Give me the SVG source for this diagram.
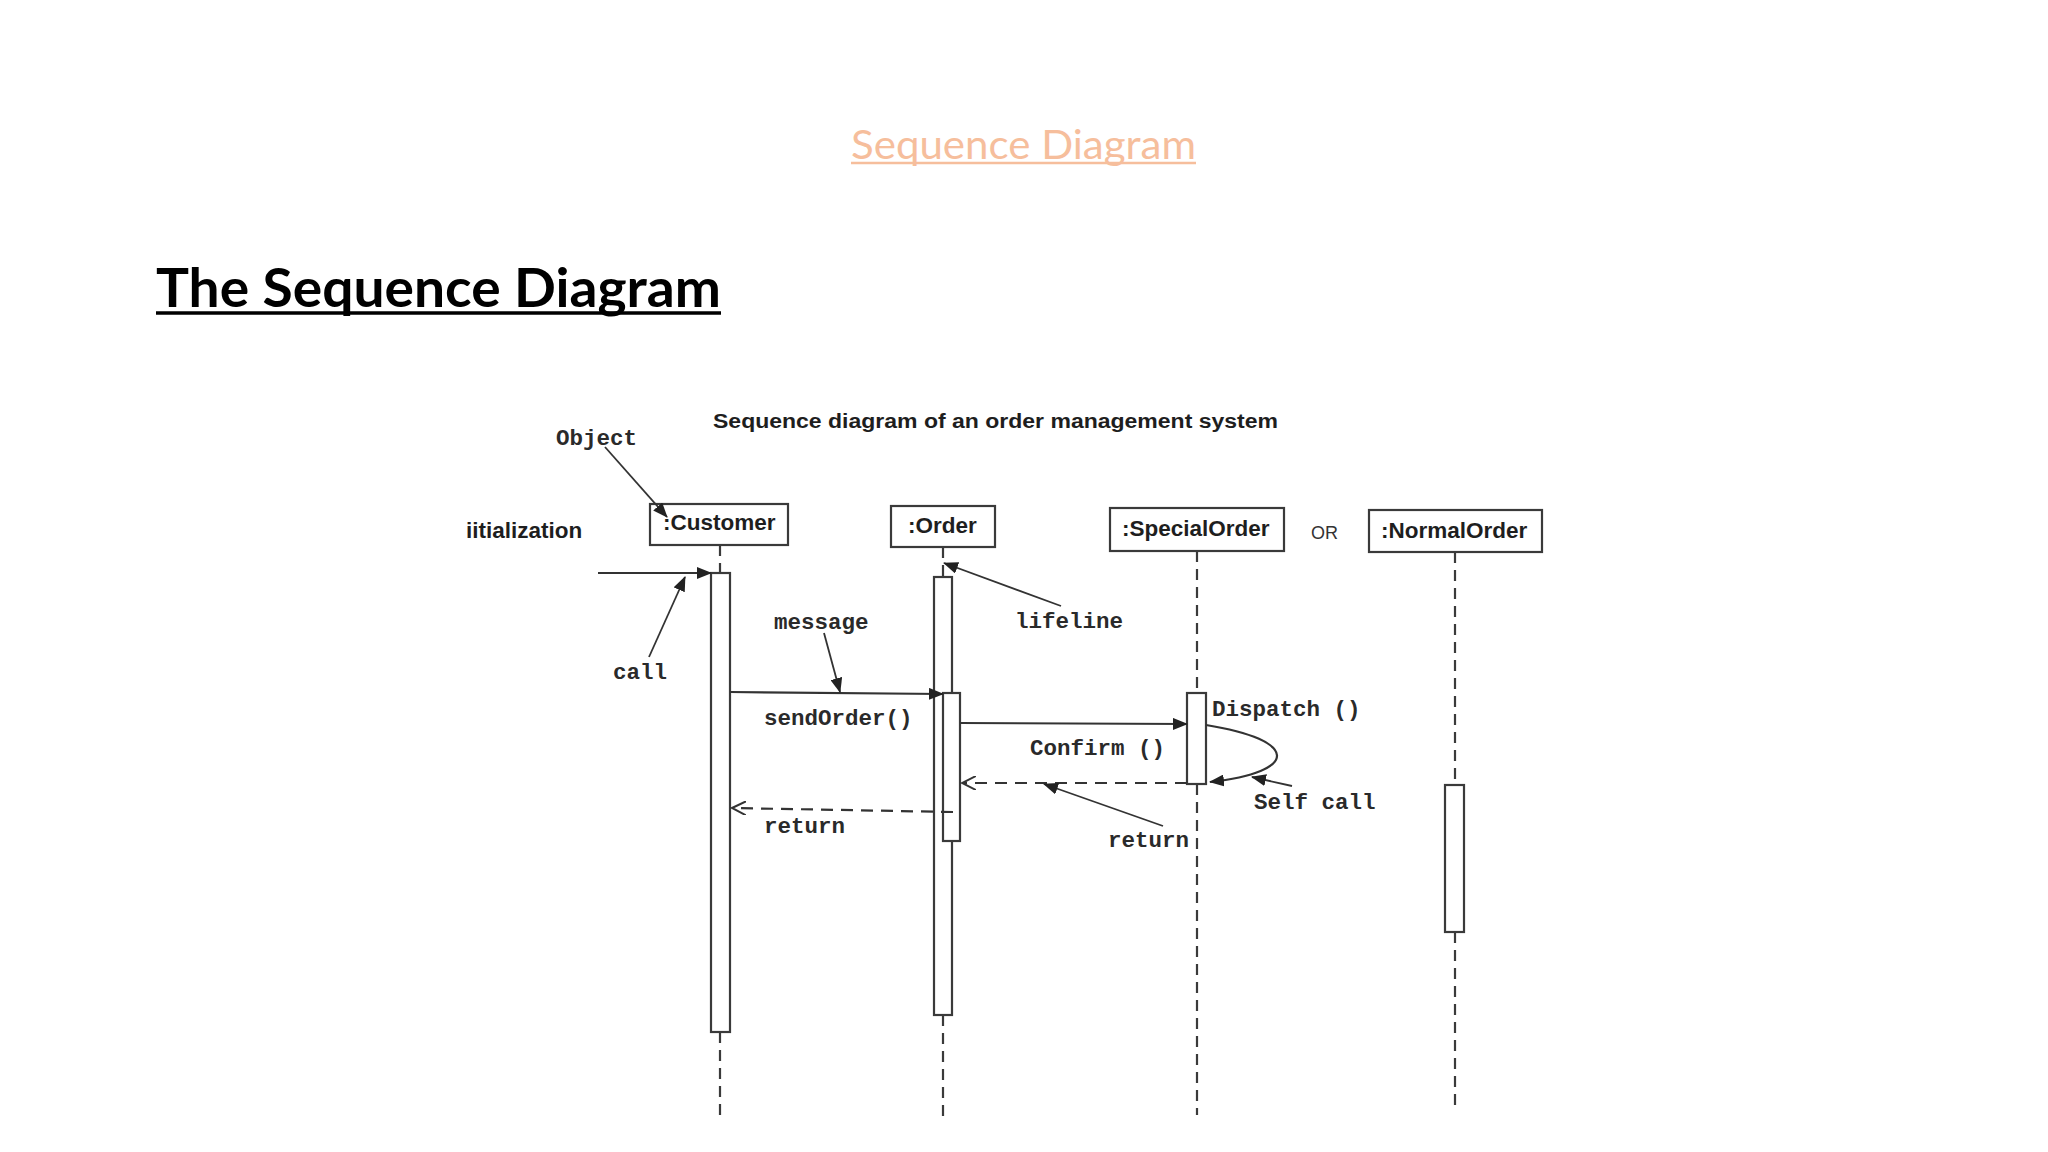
<svg xmlns="http://www.w3.org/2000/svg" width="2048" height="1152" viewBox="0 0 2048 1152">
<style>
.mono{font-family:"Liberation Mono","DejaVu Sans Mono",monospace;font-size:22.5px;font-weight:bold;fill:#2a2a2a}
.sans{font-family:"Liberation Sans",Arial,sans-serif;font-size:22.5px;font-weight:bold;fill:#1e1e1e}
.box{fill:#fff;stroke:#3a3a3a;stroke-width:2.2}
.bar{fill:#fff;stroke:#3a3a3a;stroke-width:2.2}
.life{stroke:#3a3a3a;stroke-width:2.2;stroke-dasharray:11 7;fill:none}
.msg{stroke:#333;stroke-width:2.2;fill:none}
.ret{stroke:#333;stroke-width:2.2;fill:none;stroke-dasharray:12 8}
.ann{stroke:#333;stroke-width:1.8;fill:none}
</style>
<defs>
<marker id="fa" markerUnits="userSpaceOnUse" markerWidth="16" markerHeight="12" refX="14" refY="6" orient="auto"><path d="M0,0 L15,6 L0,12 Z" fill="#222"/></marker>
<marker id="oa" markerUnits="userSpaceOnUse" markerWidth="16" markerHeight="14" refX="14" refY="7" orient="auto"><path d="M0,0 L14,7 L0,14" fill="none" stroke="#333" stroke-width="2"/></marker>
</defs>
<rect width="2048" height="1152" fill="#fff"/>
<g id="headings">
<text x="851" y="159" font-family="Lato,'Open Sans',sans-serif" font-size="40" fill="#F6BE9C" textLength="345" lengthAdjust="spacingAndGlyphs">Sequence Diagram</text>
<line x1="851" y1="163" x2="1196" y2="163" stroke="#F6BE9C" stroke-width="2.5"/>
<text x="156" y="307" font-family="Lato,'Open Sans',sans-serif" font-size="53" font-weight="bold" fill="#000" textLength="565" lengthAdjust="spacingAndGlyphs">The Sequence Diagram</text>
<line x1="156" y1="313" x2="721" y2="313" stroke="#000" stroke-width="3.5"/>
</g>
<g id="diagram-title">
<text x="713" y="428" class="sans" textLength="565" lengthAdjust="spacingAndGlyphs" style="font-size:20px">Sequence diagram of an order management system</text>
</g>
<g id="lifelines">
<line class="life" x1="720" y1="545" x2="720" y2="573"/>
<line class="life" x1="720" y1="1032" x2="720" y2="1117"/>
<line class="life" x1="943" y1="547" x2="943" y2="577"/>
<line class="life" x1="943" y1="1015" x2="943" y2="1117"/>
<line class="life" x1="1197" y1="551" x2="1197" y2="693"/>
<line class="life" x1="1197" y1="784" x2="1197" y2="1115"/>
<line class="life" x1="1455" y1="552" x2="1455" y2="785"/>
<line class="life" x1="1455" y1="932" x2="1455" y2="1105"/>
</g>
<g id="node-customer">
<rect class="box" x="650" y="504" width="138" height="41"/>
<text class="sans" x="663" y="530">:Customer</text>
<rect class="bar" x="711" y="573" width="19" height="459"/>
</g>
<g id="node-order">
<rect class="box" x="891" y="506" width="104" height="41"/>
<text class="sans" x="908" y="533">:Order</text>
<rect class="bar" x="934" y="577" width="18" height="438"/>
<rect class="bar" x="943" y="693" width="17" height="148"/>
</g>
<g id="node-specialorder">
<rect class="box" x="1110" y="508" width="174" height="43"/>
<text class="sans" x="1122" y="536">:SpecialOrder</text>
<rect class="bar" x="1187" y="693" width="19" height="91"/>
</g>
<g id="node-normalorder">
<rect class="box" x="1369" y="510" width="173" height="42"/>
<text class="sans" x="1381" y="538">:NormalOrder</text>
<rect class="bar" x="1445" y="785" width="19" height="147"/>
</g>
<g id="labels">
<text class="sans" x="466" y="538">iitialization</text>
<text x="1311" y="539" font-family="'Liberation Sans',Arial,sans-serif" font-size="18" fill="#333">OR</text>
<text class="mono" x="556" y="445">Object</text>
<text class="mono" x="613" y="679">call</text>
<text class="mono" x="774" y="629">message</text>
<text class="mono" x="1015" y="628">lifeline</text>
<text class="mono" x="764" y="725">sendOrder()</text>
<text class="mono" x="1212" y="716">Dispatch ()</text>
<text class="mono" x="1030" y="755">Confirm ()</text>
<text class="mono" x="1254" y="809">Self call</text>
<text class="mono" x="1108" y="847">return</text>
<text class="mono" x="764" y="833">return</text>
</g>
<g id="connectors">
<line class="msg" x1="598" y1="573" x2="711" y2="573" marker-end="url(#fa)"/>
<line class="msg" x1="730" y1="692" x2="943" y2="694" marker-end="url(#fa)"/>
<line class="msg" x1="960" y1="723" x2="1187" y2="724" marker-end="url(#fa)"/>
<path class="msg" d="M1206,725 C1300,740 1300,772 1210,782" marker-end="url(#fa)"/>
<line class="ret" x1="1187" y1="783" x2="962" y2="783" marker-end="url(#oa)"/>
<line class="ret" x1="953" y1="812" x2="732" y2="808" marker-end="url(#oa)"/>
<line class="ann" x1="605" y1="447" x2="667" y2="517" marker-end="url(#fa)"/>
<line class="ann" x1="649" y1="657" x2="685" y2="577" marker-end="url(#fa)"/>
<line class="ann" x1="824" y1="633" x2="840" y2="692" marker-end="url(#fa)"/>
<line class="ann" x1="1061" y1="606" x2="944" y2="563" marker-end="url(#fa)"/>
<line class="ann" x1="1163" y1="826" x2="1044" y2="784" marker-end="url(#fa)"/>
<line class="ann" x1="1292" y1="786" x2="1252" y2="777" marker-end="url(#fa)"/>
</g>
</svg>
